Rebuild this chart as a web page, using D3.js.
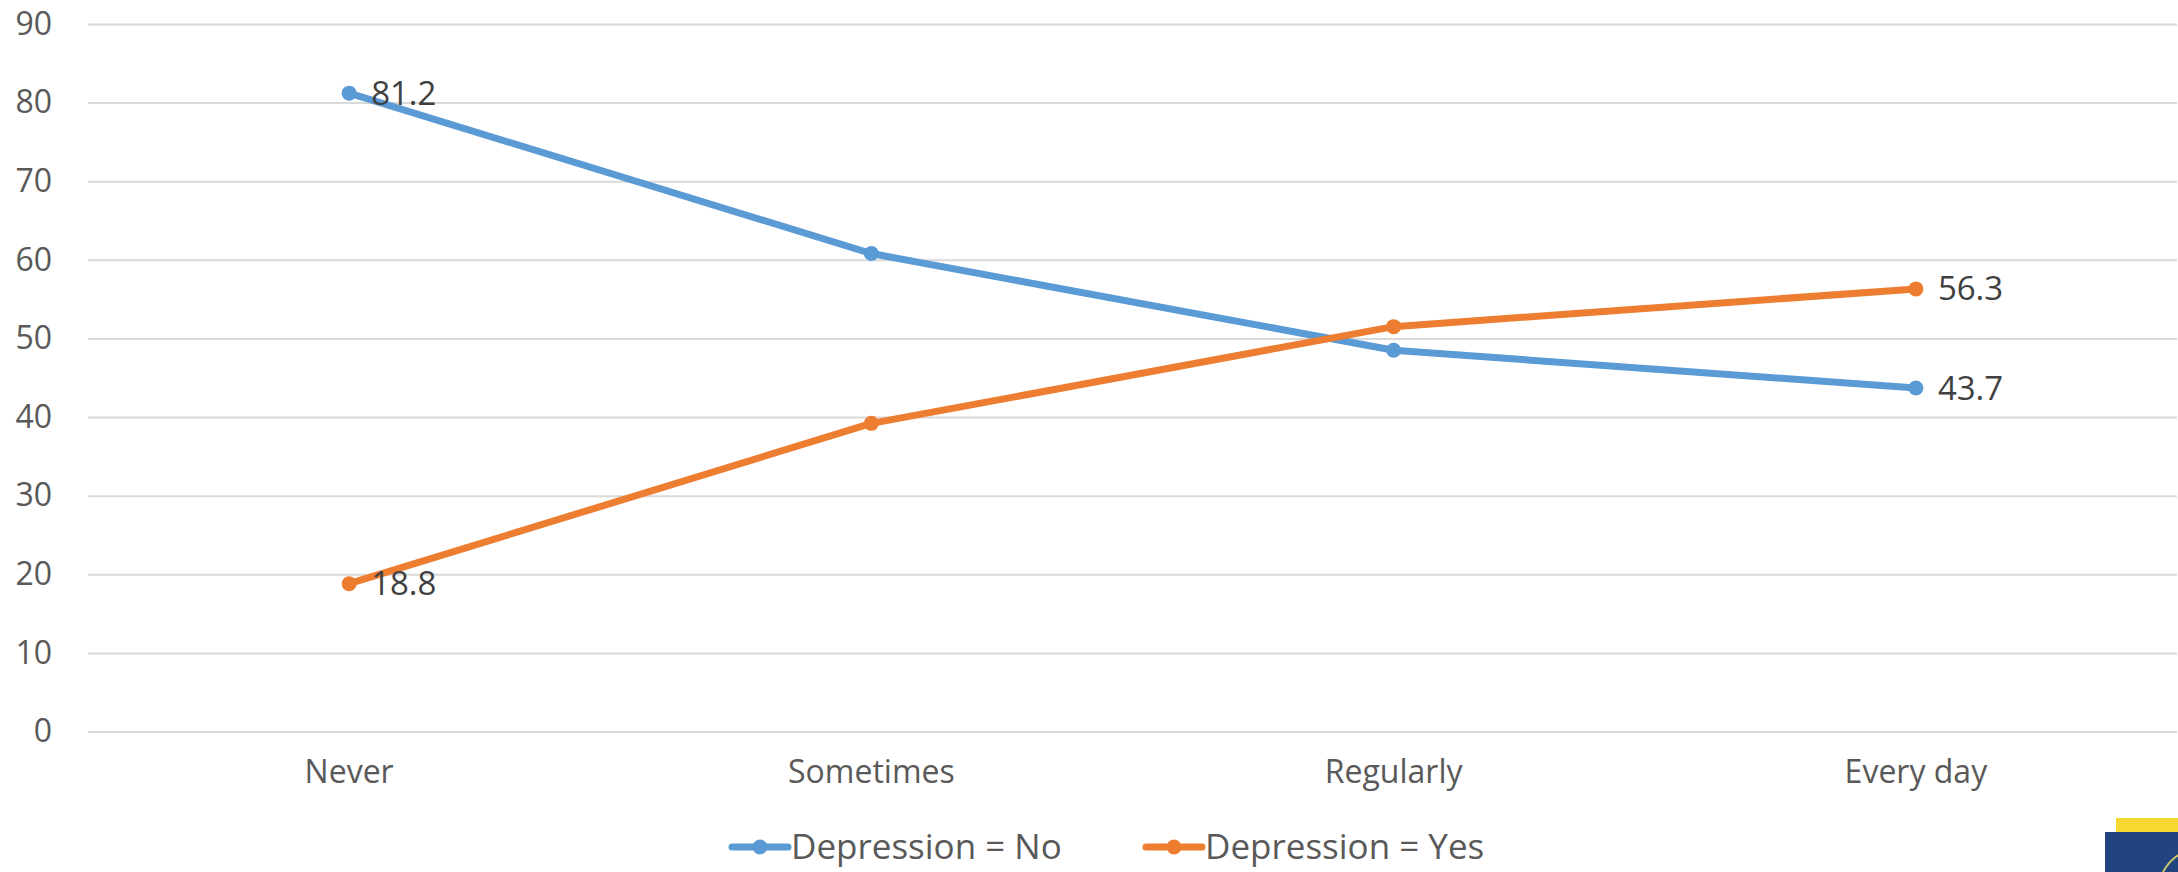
<!DOCTYPE html>
<html><head><meta charset="utf-8">
<script src="https://cdn.jsdelivr.net/npm/d3@7"></script>
<style>html,body{margin:0;padding:0;background:#fff;}svg{display:block;}</style>
</head><body>
<svg id="chart" width="2178" height="872"></svg>
<script>
const categories = ["Never", "Sometimes", "Regularly", "Every day"];
const seriesNames = ["Depression = No", "Depression = Yes"];
const valuesNo = [81.2, 60.8, 48.5, 43.7];
const valuesYes = [18.8, 39.2, 51.5, 56.3];
const yTicks = [0, 10, 20, 30, 40, 50, 60, 70, 80, 90];
const colors = ["#5b9bd5", "#ed7d31"];

(function () {
const font = "'Open Sans', sans-serif";
const svg = d3.select("#chart");
const plotLeft = 88, plotRight = 2177, plotTop = 24, plotBottom = 731.5;

const x = d3.scaleBand().domain(categories).range([plotLeft, plotRight]);
const y = d3.scaleLinear().domain([0, 90]).range([plotBottom, plotTop]);

const yAxis = d3.axisLeft(y).tickValues(yTicks).tickSize(-(plotRight - plotLeft)).tickPadding(36).tickFormat(d3.format("d"));
const gy = svg.append("g").attr("transform", `translate(${plotLeft},0)`).call(yAxis);
gy.select(".domain").remove();
gy.selectAll(".tick line").attr("stroke", "#d9d9d9").attr("stroke-width", 2);
gy.selectAll(".tick text").attr("fill", "#595959").attr("font-size", 32).attr("font-family", font);

const xAxis = d3.axisBottom(x).tickSize(0).tickPadding(29);
const gx = svg.append("g").attr("transform", `translate(0,${plotBottom})`).call(xAxis);
gx.select(".domain").remove();
gx.selectAll(".tick text").attr("fill", "#595959").attr("font-size", 32).attr("font-family", font);

const cx = d => x(d) + x.bandwidth() / 2;
const series = [valuesNo, valuesYes];
const line = d3.line().x((d, i) => cx(categories[i])).y(d => y(d));

series.forEach((vals, s) => {
  svg.append("path").datum(vals).attr("d", line).attr("fill", "none")
    .attr("stroke", colors[s]).attr("stroke-width", 7).attr("stroke-linejoin", "round");
  svg.append("g").selectAll("circle").data(vals).join("circle")
    .attr("cx", (d, i) => cx(categories[i])).attr("cy", d => y(d)).attr("r", 7.5)
    .attr("fill", colors[s]);
  [0, vals.length - 1].forEach(i => {
    svg.append("text").attr("x", cx(categories[i]) + 22).attr("y", y(vals[i]))
      .attr("dy", "0.35em").attr("fill", "#404040").attr("font-size", 33).attr("font-family", font)
      .text(d3.format(".1f")(vals[i]));
  });
});

const legendY = 847;
const legendItems = [{x: 732, name: seriesNames[0], c: colors[0]}, {x: 1146, name: seriesNames[1], c: colors[1]}];
legendItems.forEach(it => {
  const g = svg.append("g");
  g.append("line").attr("x1", it.x).attr("x2", it.x + 56).attr("y1", legendY).attr("y2", legendY)
    .attr("stroke", it.c).attr("stroke-width", 7).attr("stroke-linecap", "round");
  g.append("circle").attr("cx", it.x + 28).attr("cy", legendY).attr("r", 7.5).attr("fill", it.c);
  g.append("text").attr("x", it.x + 59).attr("y", legendY).attr("dy", "0.35em")
    .attr("fill", "#595959").attr("font-size", 35).attr("font-family", font).text(it.name);
});

svg.append("rect").attr("x", 2116).attr("y", 818).attr("width", 62).attr("height", 16).attr("fill", "#f5d830");
svg.append("rect").attr("x", 2105).attr("y", 832).attr("width", 73).attr("height", 40).attr("fill", "#21437f");
svg.append("path").attr("d", d3.arc()({innerRadius: 40, outerRadius: 42, startAngle: -Math.PI * 0.55, endAngle: -Math.PI * 0.1}))
  .attr("transform", "translate(2200,890)").attr("fill", "#c9c46a");
})();
</script>
</body></html>
